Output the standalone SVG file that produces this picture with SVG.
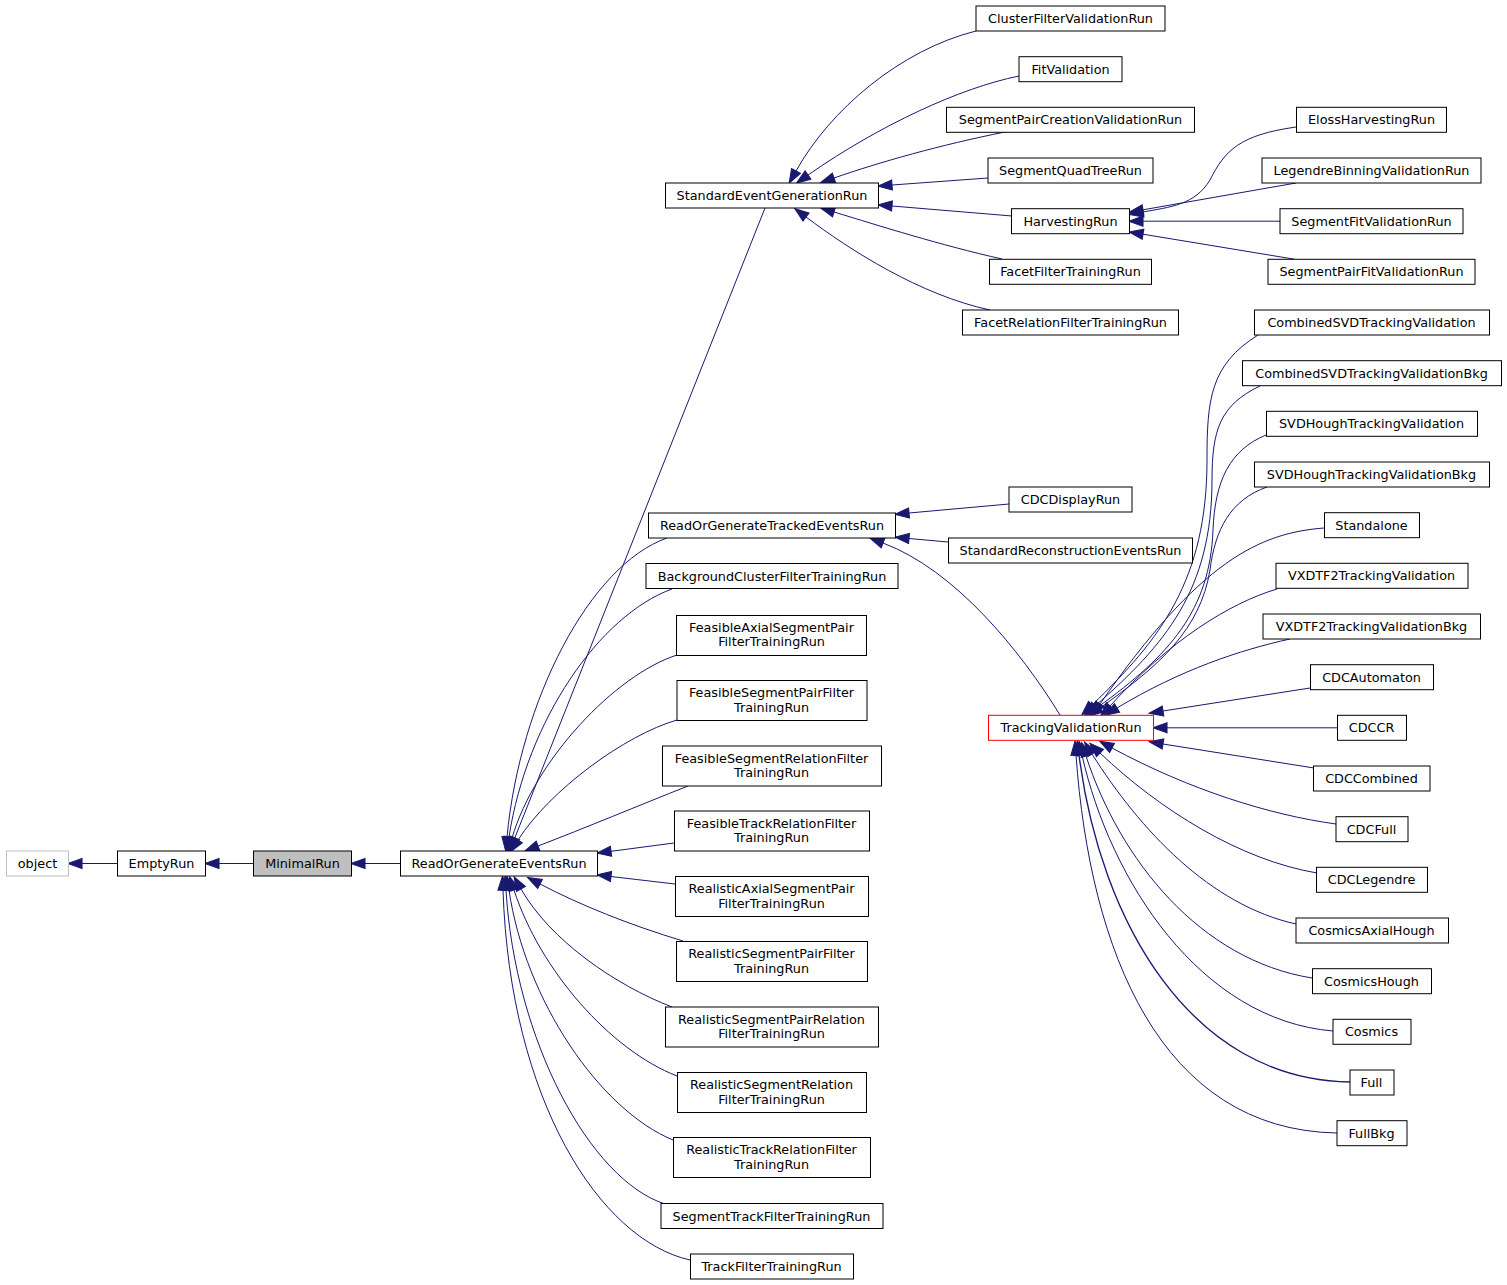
<svg xmlns="http://www.w3.org/2000/svg" width="1507" height="1285" viewBox="0 0 1507 1285">
<defs>
<style>
.n{fill:#fff;stroke:#000;stroke-width:1}
.t{font-family:"DejaVu Sans","Liberation Sans",sans-serif;font-size:12.8px;text-anchor:middle;fill:#000}
.e{fill:none;stroke:#191970;stroke-width:1;marker-end:url(#ah)}
</style>
<marker id="ah" markerUnits="userSpaceOnUse" markerWidth="14" markerHeight="11" refX="0" refY="4.7" orient="auto" viewBox="0 0 13 9.4" overflow="visible">
<path d="M0,0 L13,4.7 L0,9.4 z" fill="#191970" stroke="#191970" stroke-width="1"/>
</marker>
</defs>
<rect width="1507" height="1285" fill="#fff"/>

<g id="edges">
<!-- left chain -->
<path class="e" d="M117,863.5 L82,863.5"/>
<path class="e" d="M253,863.5 L219,863.5"/>
<path class="e" d="M400,863.5 L365,863.5"/>
<!-- children of ReadOrGenerateEventsRun -->
<path class="e" d="M765,208 L514.8,837.9"/>
<path class="e" d="M667,538 C590,565 520,700 507,837"/>
<path class="e" d="M672,589 C600,615 527,720 509,837"/>
<path class="e" d="M677,655 C615,675 535,760 512,838"/>
<path class="e" d="M677,720 C625,735 550,790 518,840"/>
<path class="e" d="M688,786 C640,805 585,828 538,846"/>
<path class="e" d="M674,843 L611,851.3"/>
<path class="e" d="M675,884 L611,876.5"/>
<path class="e" d="M683,941 C630,925 580,905 540,884"/>
<path class="e" d="M672,1007 C615,985 550,940 521,889"/>
<path class="e" d="M677,1076 C610,1050 540,970 514,890"/>
<path class="e" d="M673,1140 C600,1110 525,1000 509,890"/>
<path class="e" d="M665,1204 C590,1180 515,1040 506,890"/>
<path class="e" d="M690,1260 C600,1240 510,1100 503,890"/>
<!-- children of StandardEventGenerationRun -->
<path class="e" d="M976,31 C900,50 830,110 796,171"/>
<path class="e" d="M1019,76 C960,88 880,125 808,175"/>
<path class="e" d="M1005,132 C940,145 880,162 834,178"/>
<path class="e" d="M988,178 L892,185"/>
<path class="e" d="M1012,216 L892,206"/>
<path class="e" d="M1002,259 C940,245 880,226 834,212"/>
<path class="e" d="M990,310 C920,295 850,250 806,217"/>
<!-- children of HarvestingRun -->
<path class="e" d="M1296,127 C1240,135 1225,150 1210,180 C1195,205 1170,207 1143,212"/>
<path class="e" d="M1296,183 L1143,209.8"/>
<path class="e" d="M1280,221.2 L1143,221.2"/>
<path class="e" d="M1295,259.3 L1143,234.2"/>
<!-- children of ReadOrGenerateTrackedEventsRun -->
<path class="e" d="M1009,504 L909,513"/>
<path class="e" d="M948,542 L909,538.5"/>
<path class="e" d="M1060,715 C1020,650 955,570 883,543"/>
<!-- children of TrackingValidationRun -->
<path class="e" d="M1258,335 C1210,365 1207,400 1207,460 C1207,580 1160,640 1092,705"/>
<path class="e" d="M1260,386 C1220,405 1212,430 1212,480 C1212,590 1165,645 1095,706"/>
<path class="e" d="M1266,435 C1230,450 1215,480 1213,530 C1210,610 1170,655 1098,707"/>
<path class="e" d="M1267,487 C1230,500 1215,530 1210,570 C1200,630 1160,665 1100,708"/>
<path class="e" d="M1324,528 C1260,533 1200,560 1100,704"/>
<path class="e" d="M1277,589 C1230,603 1170,640 1110,706"/>
<path class="e" d="M1290,639 C1240,650 1180,670 1117,708"/>
<path class="e" d="M1310,688 L1163,711"/>
<path class="e" d="M1337,727.8 L1167,727.8"/>
<path class="e" d="M1314,768 L1163,744"/>
<path class="e" d="M1336,824 C1270,815 1190,790 1112,748"/>
<path class="e" d="M1317,873 C1240,860 1160,810 1100,753"/>
<path class="e" d="M1296,924 C1210,905 1140,830 1092,754"/>
<path class="e" d="M1312,978 C1200,960 1120,860 1086,756"/>
<path class="e" d="M1333,1031 C1200,1020 1110,880 1082,755"/>
<path class="e" d="M1350,1082 C1190,1080 1100,920 1079,755" style="stroke-width:1.35"/>
<path class="e" d="M1337,1133 C1160,1130 1090,950 1076,755"/>
</g>

<g id="n_object"><rect x="6.5" y="851" width="62" height="25" fill="#fff" stroke="#bfbfbf"/><text class="t" x="37.5" y="868">object</text></g>
<g id="n_EmptyRun"><rect class="n" x="117.5" y="851" width="88" height="25"/><text class="t" x="161.5" y="868">EmptyRun</text></g>
<g id="n_MinimalRun"><rect x="253.5" y="851" width="98" height="25" fill="#bfbfbf" stroke="#000"/><text class="t" x="302.5" y="868">MinimalRun</text></g>
<g id="n_ReadOrGenerateEventsRun"><rect class="n" x="400.5" y="851" width="197" height="25"/><text class="t" x="499" y="868">ReadOrGenerateEventsRun</text></g>

<g id="n_StandardEventGenerationRun"><rect class="n" x="665.5" y="183" width="213" height="25"/><text class="t" x="772" y="200">StandardEventGenerationRun</text></g>
<g id="n_ReadOrGenerateTrackedEventsRun"><rect class="n" x="648.5" y="513" width="247" height="25"/><text class="t" x="772" y="530">ReadOrGenerateTrackedEventsRun</text></g>
<g id="n_BackgroundClusterFilterTrainingRun"><rect class="n" x="646" y="563.5" width="252" height="25"/><text class="t" x="772" y="580.5">BackgroundClusterFilterTrainingRun</text></g>
<g id="n_FeasibleAxialSegmentPairFilterTrainingRun"><rect class="n" x="676.5" y="615.5" width="190" height="40"/><text class="t" x="771.5" y="632">FeasibleAxialSegmentPair</text><text class="t" x="771.5" y="646">FilterTrainingRun</text></g>
<g id="n_FeasibleSegmentPairFilterTrainingRun"><rect class="n" x="677" y="680.5" width="190" height="40"/><text class="t" x="771.5" y="697">FeasibleSegmentPairFilter</text><text class="t" x="771.5" y="711.5">TrainingRun</text></g>
<g id="n_FeasibleSegmentRelationFilterTrainingRun"><rect class="n" x="662.5" y="746" width="219" height="40"/><text class="t" x="771.5" y="762.5">FeasibleSegmentRelationFilter</text><text class="t" x="771.5" y="777">TrainingRun</text></g>
<g id="n_FeasibleTrackRelationFilterTrainingRun"><rect class="n" x="674.5" y="811" width="195" height="40"/><text class="t" x="771.5" y="827.5">FeasibleTrackRelationFilter</text><text class="t" x="771.5" y="842">TrainingRun</text></g>
<g id="n_RealisticAxialSegmentPairFilterTrainingRun"><rect class="n" x="675.5" y="876.5" width="193" height="40"/><text class="t" x="771.5" y="893">RealisticAxialSegmentPair</text><text class="t" x="771.5" y="907.5">FilterTrainingRun</text></g>
<g id="n_RealisticSegmentPairFilterTrainingRun"><rect class="n" x="676.5" y="941.5" width="191" height="40"/><text class="t" x="771.5" y="958">RealisticSegmentPairFilter</text><text class="t" x="771.5" y="972.5">TrainingRun</text></g>
<g id="n_RealisticSegmentPairRelationFilterTrainingRun"><rect class="n" x="665.5" y="1007" width="213" height="40"/><text class="t" x="771.5" y="1023.5">RealisticSegmentPairRelation</text><text class="t" x="771.5" y="1038">FilterTrainingRun</text></g>
<g id="n_RealisticSegmentRelationFilterTrainingRun"><rect class="n" x="677.5" y="1072.5" width="189" height="40"/><text class="t" x="771.5" y="1089">RealisticSegmentRelation</text><text class="t" x="771.5" y="1103.5">FilterTrainingRun</text></g>
<g id="n_RealisticTrackRelationFilterTrainingRun"><rect class="n" x="673.5" y="1137.5" width="197" height="40"/><text class="t" x="771.5" y="1154">RealisticTrackRelationFilter</text><text class="t" x="771.5" y="1168.5">TrainingRun</text></g>
<g id="n_SegmentTrackFilterTrainingRun"><rect class="n" x="661" y="1203.5" width="222" height="25"/><text class="t" x="771.5" y="1220.5">SegmentTrackFilterTrainingRun</text></g>
<g id="n_TrackFilterTrainingRun"><rect class="n" x="690.5" y="1254" width="163" height="25"/><text class="t" x="771.5" y="1271">TrackFilterTrainingRun</text></g>

<g id="n_ClusterFilterValidationRun"><rect class="n" x="976" y="6" width="189" height="25"/><text class="t" x="1070.5" y="23">ClusterFilterValidationRun</text></g>
<g id="n_FitValidation"><rect class="n" x="1019" y="56.7" width="103" height="25"/><text class="t" x="1070.5" y="73.7">FitValidation</text></g>
<g id="n_SegmentPairCreationValidationRun"><rect class="n" x="946.5" y="107.3" width="248" height="25"/><text class="t" x="1070.5" y="124.3">SegmentPairCreationValidationRun</text></g>
<g id="n_SegmentQuadTreeRun"><rect class="n" x="988" y="158" width="165" height="25"/><text class="t" x="1070.5" y="175">SegmentQuadTreeRun</text></g>
<g id="n_HarvestingRun"><rect class="n" x="1011.5" y="208.7" width="118" height="25"/><text class="t" x="1070.5" y="225.7">HarvestingRun</text></g>
<g id="n_FacetFilterTrainingRun"><rect class="n" x="989.5" y="259.3" width="162" height="25"/><text class="t" x="1070.5" y="276.3">FacetFilterTrainingRun</text></g>
<g id="n_FacetRelationFilterTrainingRun"><rect class="n" x="962.5" y="310" width="216" height="25"/><text class="t" x="1070.5" y="327">FacetRelationFilterTrainingRun</text></g>
<g id="n_CDCDisplayRun"><rect class="n" x="1009" y="487" width="123" height="25"/><text class="t" x="1070.5" y="504">CDCDisplayRun</text></g>
<g id="n_StandardReconstructionEventsRun"><rect class="n" x="948.5" y="538" width="244" height="25"/><text class="t" x="1070.5" y="555">StandardReconstructionEventsRun</text></g>
<g id="n_TrackingValidationRun"><rect x="988.5" y="715.3" width="165" height="25" fill="#fff" stroke="#ff0000"/><text class="t" x="1071" y="732.3">TrackingValidationRun</text></g>

<g id="n_ElossHarvestingRun"><rect class="n" x="1296.5" y="107.3" width="150" height="25"/><text class="t" x="1371.5" y="124.3">ElossHarvestingRun</text></g>
<g id="n_LegendreBinningValidationRun"><rect class="n" x="1262" y="158" width="219" height="25"/><text class="t" x="1371.5" y="175">LegendreBinningValidationRun</text></g>
<g id="n_SegmentFitValidationRun"><rect class="n" x="1280" y="208.7" width="183" height="25"/><text class="t" x="1371.5" y="225.7">SegmentFitValidationRun</text></g>
<g id="n_SegmentPairFitValidationRun"><rect class="n" x="1268" y="259.3" width="207" height="25"/><text class="t" x="1371.5" y="276.3">SegmentPairFitValidationRun</text></g>
<g id="n_CombinedSVDTrackingValidation"><rect class="n" x="1254.5" y="310" width="235" height="25"/><text class="t" x="1371.5" y="327">CombinedSVDTrackingValidation</text></g>
<g id="n_CombinedSVDTrackingValidationBkg"><rect class="n" x="1242.5" y="360.7" width="259" height="25"/><text class="t" x="1371.5" y="377.7">CombinedSVDTrackingValidationBkg</text></g>
<g id="n_SVDHoughTrackingValidation"><rect class="n" x="1266.5" y="411.3" width="211" height="25"/><text class="t" x="1371.5" y="428.3">SVDHoughTrackingValidation</text></g>
<g id="n_SVDHoughTrackingValidationBkg"><rect class="n" x="1254.5" y="462" width="235" height="25"/><text class="t" x="1371.5" y="479">SVDHoughTrackingValidationBkg</text></g>
<g id="n_Standalone"><rect class="n" x="1324.5" y="512.7" width="95" height="25"/><text class="t" x="1371.5" y="529.7">Standalone</text></g>
<g id="n_VXDTF2TrackingValidation"><rect class="n" x="1276" y="563.3" width="192" height="25"/><text class="t" x="1371.5" y="580.3">VXDTF2TrackingValidation</text></g>
<g id="n_VXDTF2TrackingValidationBkg"><rect class="n" x="1263" y="614" width="217.5" height="25"/><text class="t" x="1371.5" y="631">VXDTF2TrackingValidationBkg</text></g>
<g id="n_CDCAutomaton"><rect class="n" x="1310.5" y="664.7" width="123" height="25"/><text class="t" x="1371.5" y="681.7">CDCAutomaton</text></g>
<g id="n_CDCCR"><rect class="n" x="1337.5" y="715.3" width="69" height="25"/><text class="t" x="1371.5" y="732.3">CDCCR</text></g>
<g id="n_CDCCombined"><rect class="n" x="1313.5" y="766" width="116.5" height="25"/><text class="t" x="1371.5" y="783">CDCCombined</text></g>
<g id="n_CDCFull"><rect class="n" x="1336" y="816.7" width="72" height="25"/><text class="t" x="1371.5" y="833.7">CDCFull</text></g>
<g id="n_CDCLegendre"><rect class="n" x="1316.5" y="867.3" width="111" height="25"/><text class="t" x="1371.5" y="884.3">CDCLegendre</text></g>
<g id="n_CosmicsAxialHough"><rect class="n" x="1296" y="918" width="152.5" height="25"/><text class="t" x="1371.5" y="935">CosmicsAxialHough</text></g>
<g id="n_CosmicsHough"><rect class="n" x="1312.5" y="968.7" width="119" height="25"/><text class="t" x="1371.5" y="985.7">CosmicsHough</text></g>
<g id="n_Cosmics"><rect class="n" x="1333" y="1019.3" width="78" height="25"/><text class="t" x="1371.5" y="1036.3">Cosmics</text></g>
<g id="n_Full"><rect class="n" x="1350" y="1070" width="44" height="25"/><text class="t" x="1371.5" y="1087">Full</text></g>
<g id="n_FullBkg"><rect class="n" x="1337" y="1120.7" width="70" height="25"/><text class="t" x="1371.5" y="1137.7">FullBkg</text></g>
</svg>
